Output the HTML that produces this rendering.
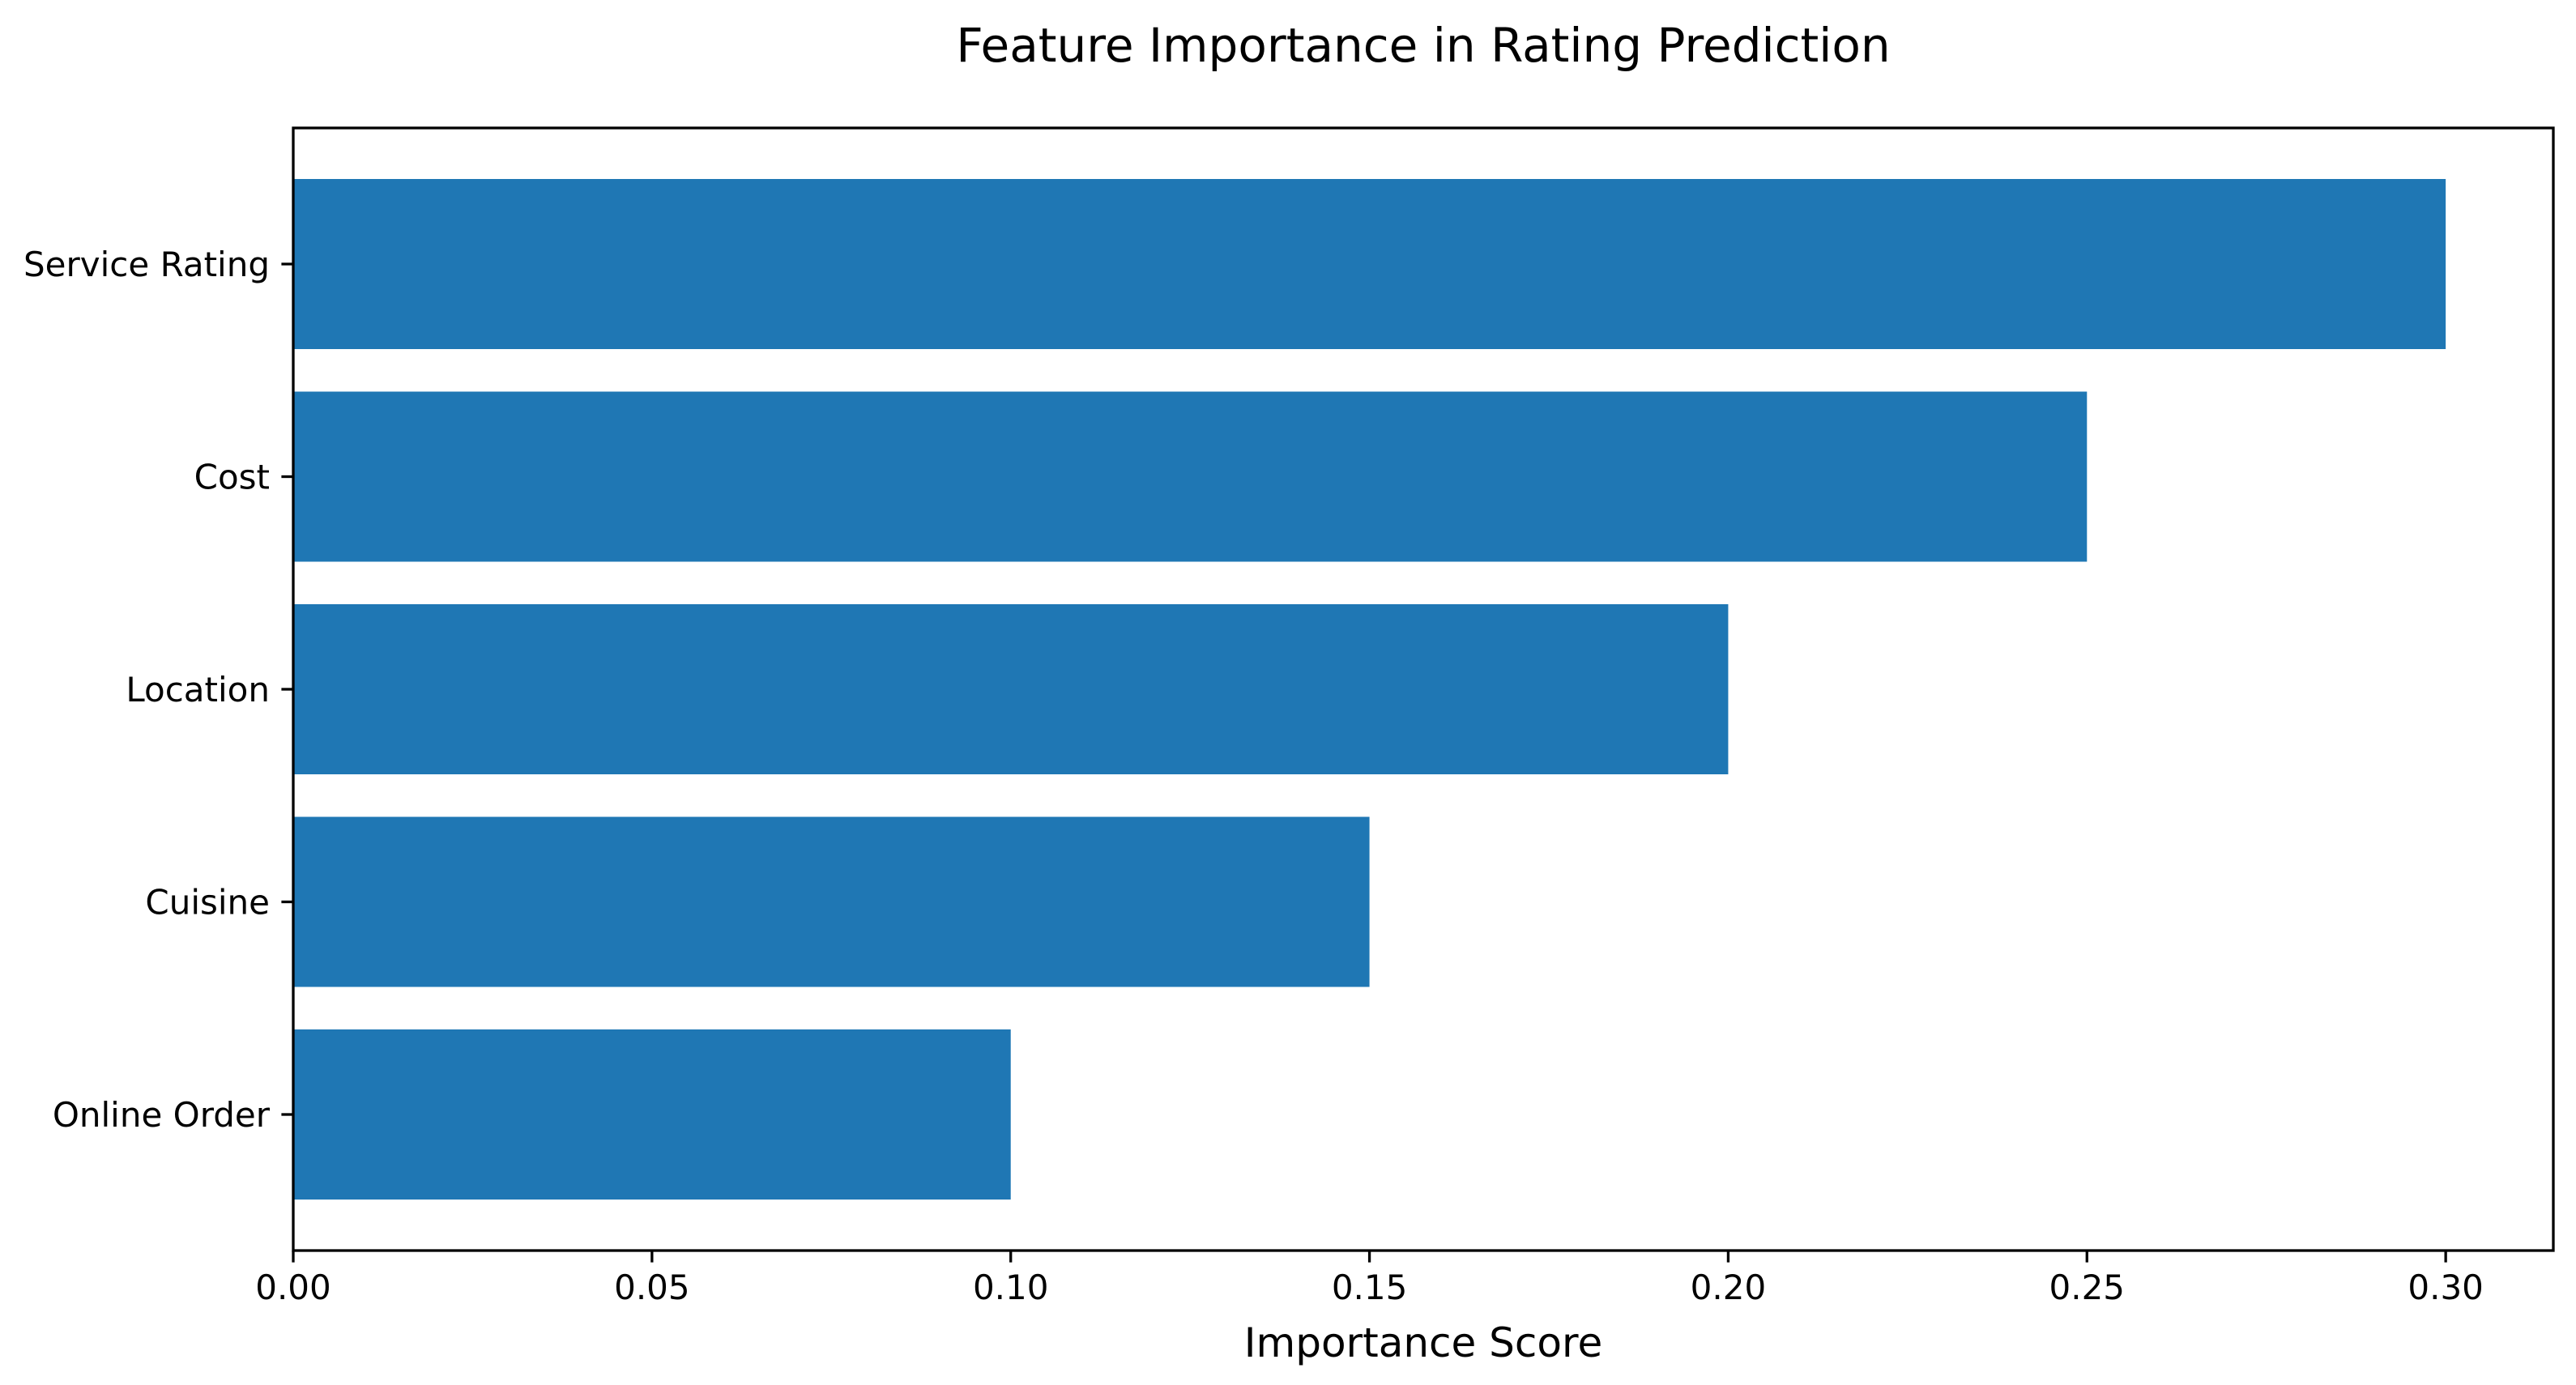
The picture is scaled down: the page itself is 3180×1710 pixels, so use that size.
<!DOCTYPE html>
<html><head><meta charset="utf-8"><style>
html,body{margin:0;padding:0;background:#fff;}
svg{display:block;font-family:"DejaVu Sans","Liberation Sans",sans-serif;}
</style></head><body>
<svg id="chart" width="3180" height="1710" viewBox="0 0 3180 1710" xmlns="http://www.w3.org/2000/svg">
<rect width="3180" height="1710" fill="#fff"/>
<text x="1757" y="76" font-size="58" text-anchor="middle" fill="#000">Feature Importance in Rating Prediction</text>
<g id="bars"></g>
<g id="axes"></g>
<text x="1757" y="1675" font-size="50" text-anchor="middle" fill="#000">Importance Score</text>
</svg>
<script>
const categories = ["Online Order","Cuisine","Location","Cost","Service Rating"];
const values = [0.10,0.15,0.20,0.25,0.30];
const xTicks = [0,0.05,0.10,0.15,0.20,0.25,0.30];
const xTickLabels = ["0.00","0.05","0.10","0.15","0.20","0.25","0.30"];

const L=362,R=3152,T=158,B=1544;
const xmin=0,xmax=0.315,ymin=-0.64,ymax=4.64;
const NS="http://www.w3.org/2000/svg";
function xs(v){return L+(v-xmin)/(xmax-xmin)*(R-L);}
function ys(v){return B-(v-ymin)/(ymax-ymin)*(B-T);}
function mk(tag,attrs,parent){const e=document.createElementNS(NS,tag);for(const k in attrs)e.setAttribute(k,attrs[k]);parent.appendChild(e);return e;}
const bars=document.getElementById('bars');
const axes=document.getElementById('axes');
categories.forEach((c,i)=>{
  const y0=ys(i+0.4),y1=ys(i-0.4);
  const r=mk('rect',{x:xs(0),y:y0,width:xs(values[i])-xs(0),height:y1-y0,fill:'#1f77b4'},bars);
  
  
  const t=mk('line',{x1:L,x2:L-14.6,y1:ys(i),y2:ys(i),stroke:'#000','stroke-width':3.3},axes);
  
  
  const lb=mk('text',{x:L-29,y:ys(i)+15,'font-size':42,'text-anchor':'end',fill:'#000'},axes);
  lb.textContent=c;
  
  
});
xTicks.forEach((v,i)=>{
  const t=mk('line',{x1:xs(v),x2:xs(v),y1:B,y2:B+14.6,stroke:'#000','stroke-width':3.3},axes);
  
  
  const lb=mk('text',{x:xs(v),y:B+60,'font-size':42,'text-anchor':'middle',fill:'#000'},axes);
  lb.textContent=xTickLabels[i];
  
  
});
const fr=mk('rect',{x:L,y:T,width:R-L,height:B-T,fill:'none',stroke:'#000','stroke-width':3.3},axes);


</script>
</body></html>
